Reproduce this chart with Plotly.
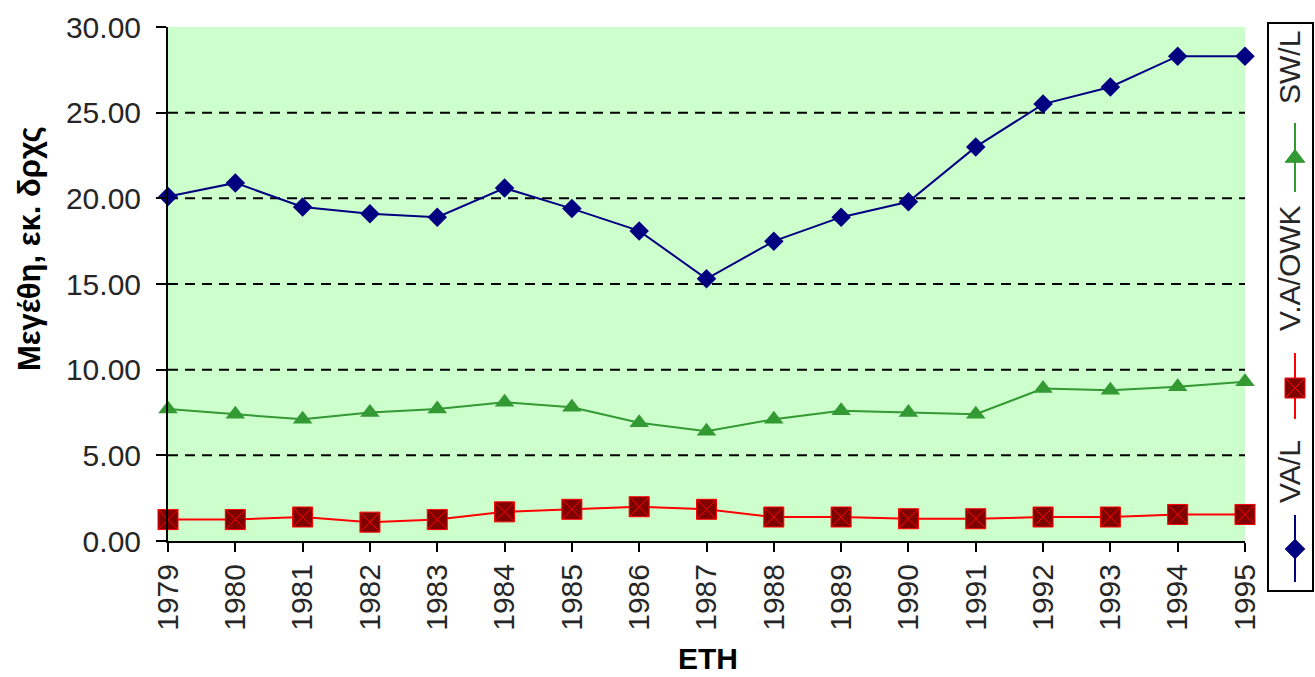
import plotly.graph_objects as go

# ---- data ----
years = [1979, 1980, 1981, 1982, 1983, 1984, 1985, 1986, 1987,
         1988, 1989, 1990, 1991, 1992, 1993, 1994, 1995]
year_labels = [str(y) for y in years]
va_l = [20.1, 20.9, 19.5, 19.1, 18.9, 20.6, 19.4, 18.1, 15.3,
        17.5, 18.9, 19.8, 23.0, 25.5, 26.5, 28.3, 28.3]
va_owk = [1.25, 1.25, 1.4, 1.1, 1.25, 1.7, 1.85, 2.0, 1.85,
          1.4, 1.4, 1.3, 1.3, 1.4, 1.4, 1.55, 1.55]
sw_l = [7.7, 7.4, 7.1, 7.5, 7.7, 8.1, 7.8, 6.9, 6.4,
        7.1, 7.6, 7.5, 7.4, 8.9, 8.8, 9.0, 9.3]
series_names = ["VA/L", "V.A/OWK", "SW/L"]
y_ticks = [0, 5, 10, 15, 20, 25, 30]
grid_values = [5, 10, 15, 20, 25]
y_title = "Μεγέθη, εκ. δρχς"
x_title = "ΕΤΗ"

W, H = 1315, 677
FONT = "Liberation Sans, Arial, sans-serif"
BLUE = "#000080"
RED = "#FF0000"
DARKRED = "#800000"
GREEN = "#339933"
TXT = "#262626"

fig = go.Figure()

fig.add_trace(go.Scatter(x=years, y=va_l, mode="lines+markers", name=series_names[0],
                         line=dict(color=BLUE, width=2),
                         marker=dict(symbol="diamond", size=15, color=BLUE),
                         cliponaxis=False))
fig.add_trace(go.Scatter(x=years, y=va_owk, mode="lines+markers", name=series_names[1],
                         line=dict(color=RED, width=2),
                         marker=dict(symbol="square-x", size=20, color=DARKRED,
                                     line=dict(color=RED, width=1)),
                         cliponaxis=False))
fig.add_trace(go.Scatter(x=years, y=sw_l, mode="lines+markers", name=series_names[2],
                         line=dict(color=GREEN, width=2),
                         marker=dict(symbol="triangle-up", size=17, color=GREEN),
                         cliponaxis=False))

# ---- custom vertical legend (drawn in its own small axes) ----
leg_x_line = 1295
leg_items = [
    # name, color, symbol, size, mcolor, mline, line y0, y1, marker y, text y
    (series_names[0], BLUE, "diamond", 15, BLUE, BLUE, 515, 582, 549, 472),
    (series_names[1], RED, "square-x", 20, DARKRED, RED, 353, 419, 388, 268),
    (series_names[2], GREEN, "triangle-up", 17, GREEN, GREEN, 123, 192, 158, 68),
]
for name, col, sym, sz, mcol, mline, y0, y1, ym, yt in leg_items:
    fig.add_trace(go.Scatter(x=[leg_x_line, leg_x_line], y=[y0, y1], mode="lines",
                             line=dict(color=col, width=2), xaxis="x2", yaxis="y2",
                             hoverinfo="skip", cliponaxis=False))
    fig.add_trace(go.Scatter(x=[leg_x_line], y=[ym], mode="markers",
                             marker=dict(symbol=sym, size=sz, color=mcol,
                                         line=dict(color=mline, width=1)),
                             xaxis="x2", yaxis="y2", hoverinfo="skip", cliponaxis=False))
    fig.add_annotation(x=1289, y=yt, xref="x2", yref="y2", text=name, textangle=-90,
                       showarrow=False, xanchor="center", yanchor="middle",
                       font=dict(family=FONT, size=30, color=TXT))

# background and dashed grid
fig.add_shape(type="rect", xref="x domain", yref="y domain", x0=0, x1=1, y0=0, y1=1,
              fillcolor="#CCFFCC", line=dict(width=0), layer="below")
for v in grid_values:
    fig.add_shape(type="line", xref="x domain", yref="y", x0=0, x1=1, y0=v, y1=v,
                  line=dict(color="#000000", width=2, dash="10px,7px"), layer="below")

fig.add_annotation(x=30 / W, y=1 - 249 / H, xref="paper", yref="paper", text=f"<b>{y_title}</b>",
                   textangle=-90, showarrow=False, xanchor="center", yanchor="middle",
                   font=dict(family=FONT, size=31, color="#000000"))
fig.add_annotation(x=708 / W, y=0, xref="paper", yref="paper", text=f"<b>{x_title}</b>",
                   showarrow=False, xanchor="center", yanchor="bottom",
                   font=dict(family=FONT, size=30, color="#000000"))

fig.update_layout(
    template="none",
    width=W, height=H, autosize=False,
    margin=dict(l=0, r=0, t=0, b=0, pad=0),
    paper_bgcolor="white", plot_bgcolor="white",
    showlegend=False,
    font=dict(family=FONT, size=30, color=TXT),
    xaxis=dict(domain=[168 / W, 1245 / W], range=[years[0], years[-1]], automargin=False,
               tickmode="array", tickvals=years, ticktext=year_labels, tickangle=-90,
               ticks="outside", ticklen=9, tickwidth=2, tickcolor="#000000",
               showline=True, linecolor="#000000", linewidth=2,
               showgrid=False, zeroline=False, anchor="y", fixedrange=True,
               tickfont=dict(family=FONT, size=30, color=TXT)),
    yaxis=dict(domain=[1 - 541 / H, 1 - 27 / H], range=[0, 30], automargin=False,
               tickmode="array", tickvals=y_ticks, tickformat=".2f",
               ticks="outside", ticklen=10, tickwidth=2, tickcolor="#000000",
               ticklabelstandoff=9,
               showline=True, linecolor="#000000", linewidth=2,
               showgrid=False, zeroline=False, anchor="x", fixedrange=True,
               tickfont=dict(family=FONT, size=30, color=TXT)),
    xaxis2=dict(domain=[1269 / W, 1312 / W], range=[1269, 1312], anchor="y2", automargin=False,
                showline=True, mirror=True, linecolor="#000000", linewidth=2,
                showgrid=False, zeroline=False, showticklabels=False, ticks="",
                fixedrange=True),
    yaxis2=dict(domain=[1 - 590 / H, 1 - 24 / H], range=[590, 24], anchor="x2", automargin=False,
                showline=True, mirror=True, linecolor="#000000", linewidth=2,
                showgrid=False, zeroline=False, showticklabels=False, ticks="",
                fixedrange=True),
)

fig.write_html("out.html", config={"displayModeBar": False},
               post_script="document.body.style.margin='0px';document.body.style.overflow='hidden';")
